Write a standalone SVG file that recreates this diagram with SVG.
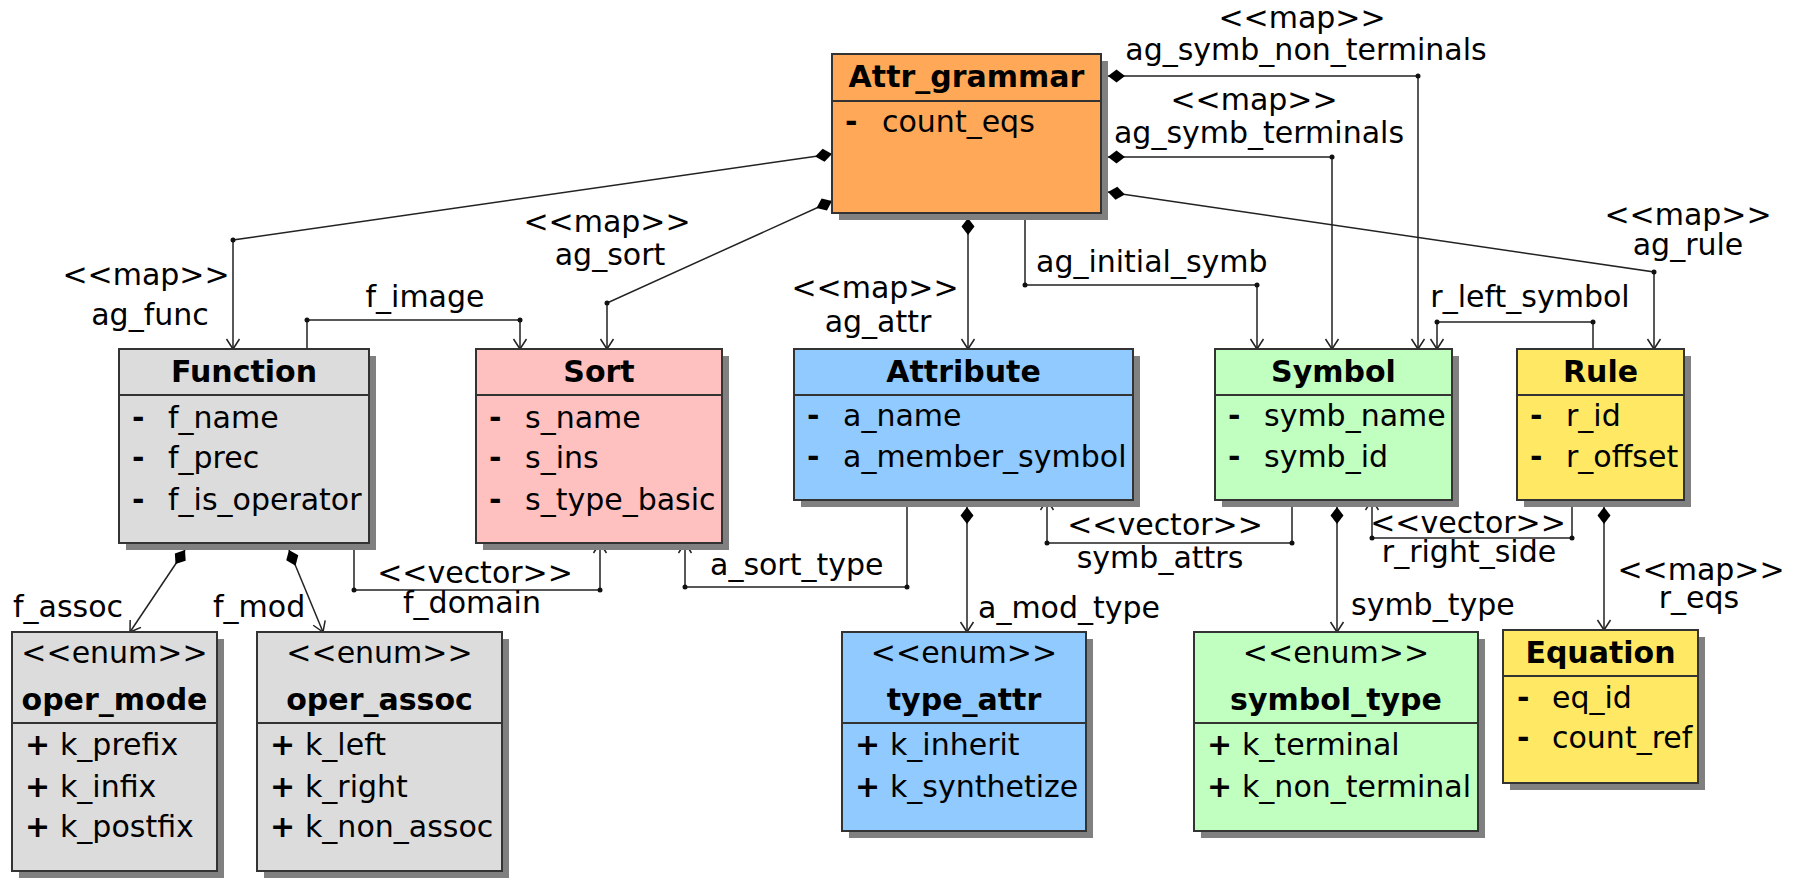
<svg xmlns="http://www.w3.org/2000/svg" width="1800" height="893" viewBox="0 0 1800 893">
<style>
text{font-family:"DejaVu Sans","Liberation Sans",sans-serif;font-size:30px;fill:#000}
.b{font-weight:bold}
.m{text-anchor:middle}
.sh{fill:#808080}
.bx{stroke:#333;stroke-width:2}
.dv{stroke:#333;stroke-width:2}
.c{fill:none;stroke:#222;stroke-width:1.5}
.a{marker-end:url(#arr)}
.d{marker-start:url(#dia)}
.pt{fill:#111}
</style>
<defs>
<marker id="arr" markerUnits="userSpaceOnUse" orient="auto" overflow="visible" refX="0" refY="0" markerWidth="1" markerHeight="1"><path d="M-10,-6.5 L0,0 L-10,6.5" fill="none" stroke="#222" stroke-width="1.5"/></marker>
<marker id="dia" markerUnits="userSpaceOnUse" orient="auto" overflow="visible" refX="0" refY="0" markerWidth="1" markerHeight="1"><path d="M0,0 L8.5,-6.5 L17,0 L8.5,6.5 Z" fill="#000"/></marker>
</defs>
<rect width="1800" height="893" fill="#fff"/>
<g id="connectors">
<polyline class="c d a" points="832,154 233,240 233,349"/>
<polyline class="c d a" points="832,201 607,303 607,349"/>
<polyline class="c d a" points="968,218 968,349"/>
<polyline class="c a" points="1025,213 1025,285 1257,285 1257,349"/>
<polyline class="c d a" points="1108,76 1418,76 1418,349"/>
<polyline class="c d a" points="1108,157 1332,157 1332,349"/>
<polyline class="c d a" points="1108,192 1654,272 1654,349"/>
<polyline class="c a" points="307,349 307,320 520,320 520,349"/>
<polyline class="c a" points="354,543 354,590 600,590 600,543"/>
<polyline class="c a" points="907,500 907,587 685,587 685,543"/>
<polyline class="c a" points="1292,500 1292,543 1047,543 1047,500"/>
<polyline class="c a" points="1572,500 1572,538 1372,538 1372,500"/>
<polyline class="c a" points="1593,349 1593,322 1437,322 1437,349"/>
<polyline class="c d a" points="967,507 967,632"/>
<polyline class="c d a" points="1337,507 1337,632"/>
<polyline class="c d a" points="1604,507 1604,630"/>
<polyline class="c d a" points="185,550 130,632"/>
<polyline class="c d a" points="289,550 323,632"/>
<circle class="pt" cx="233" cy="240" r="2.5"/>
<circle class="pt" cx="607" cy="303" r="2.5"/>
<circle class="pt" cx="1025" cy="285" r="2.5"/>
<circle class="pt" cx="1257" cy="285" r="2.5"/>
<circle class="pt" cx="1418" cy="76" r="2.5"/>
<circle class="pt" cx="1332" cy="157" r="2.5"/>
<circle class="pt" cx="1654" cy="272" r="2.5"/>
<circle class="pt" cx="307" cy="320" r="2.5"/>
<circle class="pt" cx="520" cy="320" r="2.5"/>
<circle class="pt" cx="354" cy="590" r="2.5"/>
<circle class="pt" cx="600" cy="590" r="2.5"/>
<circle class="pt" cx="907" cy="587" r="2.5"/>
<circle class="pt" cx="685" cy="587" r="2.5"/>
<circle class="pt" cx="1292" cy="543" r="2.5"/>
<circle class="pt" cx="1047" cy="543" r="2.5"/>
<circle class="pt" cx="1572" cy="538" r="2.5"/>
<circle class="pt" cx="1372" cy="538" r="2.5"/>
<circle class="pt" cx="1593" cy="322" r="2.5"/>
<circle class="pt" cx="1437" cy="322" r="2.5"/>
<text class="m" x="146" y="285">&lt;&lt;map&gt;&gt;</text>
<text class="m" x="150" y="325">ag_func</text>
<text class="m" x="425" y="307">f_image</text>
<text class="m" x="607" y="232">&lt;&lt;map&gt;&gt;</text>
<text class="m" x="610" y="265">ag_sort</text>
<text class="m" x="875" y="298">&lt;&lt;map&gt;&gt;</text>
<text class="m" x="878" y="332">ag_attr</text>
<text x="1036" y="272">ag_initial_symb</text>
<text class="m" x="1302" y="28">&lt;&lt;map&gt;&gt;</text>
<text class="m" x="1306" y="60">ag_symb_non_terminals</text>
<text class="m" x="1254" y="110">&lt;&lt;map&gt;&gt;</text>
<text class="m" x="1259" y="143">ag_symb_terminals</text>
<text class="m" x="1688" y="225">&lt;&lt;map&gt;&gt;</text>
<text class="m" x="1688" y="255">ag_rule</text>
<text class="m" x="1530" y="307">r_left_symbol</text>
<text class="m" x="475" y="583">&lt;&lt;vector&gt;&gt;</text>
<text class="m" x="472" y="613">f_domain</text>
<text x="710" y="575">a_sort_type</text>
<text class="m" x="1165" y="535">&lt;&lt;vector&gt;&gt;</text>
<text class="m" x="1160" y="568">symb_attrs</text>
<text class="m" x="1468" y="533">&lt;&lt;vector&gt;&gt;</text>
<text class="m" x="1469" y="562">r_right_side</text>
<text x="978" y="618">a_mod_type</text>
<text x="1351" y="615">symb_type</text>
<text class="m" x="1701" y="580">&lt;&lt;map&gt;&gt;</text>
<text class="m" x="1699" y="608">r_eqs</text>
<text x="13" y="617">f_assoc</text>
<text x="213" y="617">f_mod</text>
</g>
<g id="attr_grammar">
<rect class="sh" x="839" y="61" width="269" height="159"/>
<rect class="bx" x="832" y="54" width="269" height="159" fill="#ffa858"/>
<line class="dv" x1="832" y1="101" x2="1101" y2="101"/>
<text class="b m" x="966.5" y="87">Attr_grammar</text>
<text class="b" x="845" y="132">-</text><text x="882" y="132">count_eqs</text>
</g>
<g id="function">
<rect class="sh" x="126" y="356" width="250" height="194"/>
<rect class="bx" x="119" y="349" width="250" height="194" fill="#dcdcdc"/>
<line class="dv" x1="119" y1="395" x2="369" y2="395"/>
<text class="b m" x="244" y="382">Function</text>
<text class="b" x="132" y="428">-</text><text x="168" y="428">f_name</text>
<text class="b" x="132" y="468">-</text><text x="168" y="468">f_prec</text>
<text class="b" x="132" y="510">-</text><text x="168" y="510">f_is_operator</text>
</g>
<g id="sort">
<rect class="sh" x="483" y="356" width="246" height="194"/>
<rect class="bx" x="476" y="349" width="246" height="194" fill="#ffc0c0"/>
<line class="dv" x1="476" y1="395" x2="722" y2="395"/>
<text class="b m" x="599" y="382">Sort</text>
<text class="b" x="489" y="428">-</text><text x="525" y="428">s_name</text>
<text class="b" x="489" y="468">-</text><text x="525" y="468">s_ins</text>
<text class="b" x="489" y="510">-</text><text x="525" y="510">s_type_basic</text>
</g>
<g id="attribute">
<rect class="sh" x="801" y="356" width="339" height="151"/>
<rect class="bx" x="794" y="349" width="339" height="151" fill="#90caff"/>
<line class="dv" x1="794" y1="395" x2="1133" y2="395"/>
<text class="b m" x="963.5" y="382">Attribute</text>
<text class="b" x="807" y="426">-</text><text x="843" y="426">a_name</text>
<text class="b" x="807" y="467">-</text><text x="843" y="467">a_member_symbol</text>
</g>
<g id="symbol">
<rect class="sh" x="1222" y="356" width="237" height="151"/>
<rect class="bx" x="1215" y="349" width="237" height="151" fill="#c0ffc0"/>
<line class="dv" x1="1215" y1="395" x2="1452" y2="395"/>
<text class="b m" x="1333.5" y="382">Symbol</text>
<text class="b" x="1228" y="426">-</text><text x="1264" y="426">symb_name</text>
<text class="b" x="1228" y="467">-</text><text x="1264" y="467">symb_id</text>
</g>
<g id="rule">
<rect class="sh" x="1524" y="356" width="167" height="151"/>
<rect class="bx" x="1517" y="349" width="167" height="151" fill="#ffe964"/>
<line class="dv" x1="1517" y1="395" x2="1684" y2="395"/>
<text class="b m" x="1600.5" y="382">Rule</text>
<text class="b" x="1530" y="426">-</text><text x="1566" y="426">r_id</text>
<text class="b" x="1530" y="467">-</text><text x="1566" y="467">r_offset</text>
</g>
<g id="oper_mode">
<rect class="sh" x="19" y="639" width="205" height="239"/>
<rect class="bx" x="12" y="632" width="205" height="239" fill="#dcdcdc"/>
<line class="dv" x1="12" y1="723" x2="217" y2="723"/>
<text class="m" x="114.5" y="663">&lt;&lt;enum&gt;&gt;</text>
<text class="b m" x="114.5" y="710">oper_mode</text>
<text class="b" x="25" y="755">+</text><text x="60" y="755">k_prefix</text>
<text class="b" x="25" y="797">+</text><text x="60" y="797">k_infix</text>
<text class="b" x="25" y="837">+</text><text x="60" y="837">k_postfix</text>
</g>
<g id="oper_assoc">
<rect class="sh" x="264" y="639" width="245" height="239"/>
<rect class="bx" x="257" y="632" width="245" height="239" fill="#dcdcdc"/>
<line class="dv" x1="257" y1="723" x2="502" y2="723"/>
<text class="m" x="379.5" y="663">&lt;&lt;enum&gt;&gt;</text>
<text class="b m" x="379.5" y="710">oper_assoc</text>
<text class="b" x="270" y="755">+</text><text x="305" y="755">k_left</text>
<text class="b" x="270" y="797">+</text><text x="305" y="797">k_right</text>
<text class="b" x="270" y="837">+</text><text x="305" y="837">k_non_assoc</text>
</g>
<g id="type_attr">
<rect class="sh" x="849" y="639" width="244" height="199"/>
<rect class="bx" x="842" y="632" width="244" height="199" fill="#90caff"/>
<line class="dv" x1="842" y1="723" x2="1086" y2="723"/>
<text class="m" x="964" y="663">&lt;&lt;enum&gt;&gt;</text>
<text class="b m" x="964" y="710">type_attr</text>
<text class="b" x="855" y="755">+</text><text x="890" y="755">k_inherit</text>
<text class="b" x="855" y="797">+</text><text x="890" y="797">k_synthetize</text>
</g>
<g id="symbol_type">
<rect class="sh" x="1201" y="639" width="284" height="199"/>
<rect class="bx" x="1194" y="632" width="284" height="199" fill="#c0ffc0"/>
<line class="dv" x1="1194" y1="723" x2="1478" y2="723"/>
<text class="m" x="1336" y="663">&lt;&lt;enum&gt;&gt;</text>
<text class="b m" x="1336" y="710">symbol_type</text>
<text class="b" x="1207" y="755">+</text><text x="1242" y="755">k_terminal</text>
<text class="b" x="1207" y="797">+</text><text x="1242" y="797">k_non_terminal</text>
</g>
<g id="equation">
<rect class="sh" x="1510" y="637" width="195" height="153"/>
<rect class="bx" x="1503" y="630" width="195" height="153" fill="#ffe964"/>
<line class="dv" x1="1503" y1="676" x2="1698" y2="676"/>
<text class="b m" x="1600.5" y="663">Equation</text>
<text class="b" x="1517" y="708">-</text><text x="1552" y="708">eq_id</text>
<text class="b" x="1517" y="748">-</text><text x="1552" y="748">count_ref</text>
</g>
</svg>
